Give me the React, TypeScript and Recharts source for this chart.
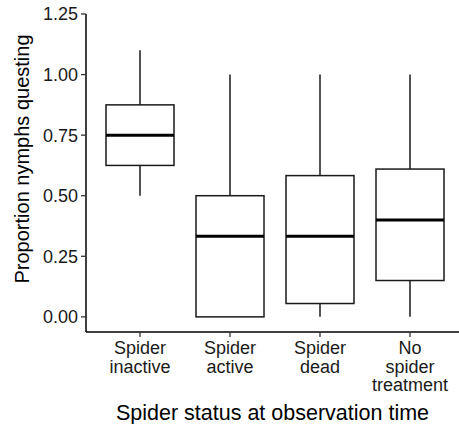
import React from "react";
import { ComposedChart, Bar, XAxis, YAxis, Label } from "recharts";

const categories = ["Spider\ninactive", "Spider\nactive", "Spider\ndead", "No\nspider\ntreatment"];
const whiskerLow = [0.5, 0, 0, 0];
const q1 = [0.625, 0, 0.055, 0.15];
const median = [0.75, 0.333, 0.333, 0.4];
const q3 = [0.875, 0.5, 0.583, 0.61];
const whiskerHigh = [1.1, 1.0, 1.0, 1.0];
const yTicks = [0, 0.25, 0.5, 0.75, 1.0, 1.25];

const data = categories.map((c, i) => ({
  name: c,
  low: whiskerLow[i],
  q1: q1[i],
  median: median[i],
  q3: q3[i],
  high: whiskerHigh[i],
}));

const FONT = "'Liberation Sans', Arial, Helvetica, sans-serif";

const BoxShape = (props: any) => {
  const { x, y, width, height, payload } = props;
  const top = Math.min(y, y + height);
  const bottom = Math.max(y, y + height);
  const hi = payload.high;
  const lo = payload.low;
  const px = (v: number) => (hi === lo ? top : top + ((bottom - top) * (hi - v)) / (hi - lo));
  const cx = x + width / 2;
  const yq1 = px(payload.q1);
  const yq3 = px(payload.q3);
  const ym = px(payload.median);
  return (
    <g>
      <line x1={cx} x2={cx} y1={top} y2={yq3} stroke="#1a1a1a" strokeWidth={1.5} />
      <line x1={cx} x2={cx} y1={yq1} y2={bottom} stroke="#1a1a1a" strokeWidth={1.5} />
      <rect x={x} y={yq3} width={width} height={yq1 - yq3} fill="#ffffff" stroke="#1a1a1a" strokeWidth={1.5} />
      <line x1={x} x2={x + width} y1={ym} y2={ym} stroke="#000000" strokeWidth={3} />
    </g>
  );
};

const XTick = (props: any) => {
  const { x, y, payload } = props;
  const lines = String(payload.value).split("\n");
  return (
    <text x={x} y={y} textAnchor="middle" fill="#1a1a1a" fontSize={18} fontFamily={FONT}>
      {lines.map((l, i) => (
        <tspan key={i} x={x} dy={i === 0 ? 15 : 18.5}>
          {l}
        </tspan>
      ))}
    </text>
  );
};

export default function App() {
  return (
    <div style={{ position: "absolute", left: 0, top: 0, width: 459, height: 424, background: "#fff" }}>
      <ComposedChart
        width={459}
        height={424}
        data={data}
        margin={{ top: 14, right: 0, left: 0, bottom: 0 }}
        style={{ fontFamily: FONT }}
      >
        <XAxis
          dataKey="name"
          type="category"
          height={92}
          padding={{ left: 9, right: 4 }}
          axisLine={{ stroke: "#000", strokeWidth: 1.5 }}
          tickLine={{ stroke: "#333", strokeWidth: 1.3 }}
          tickSize={5}
          tick={<XTick />}
          interval={0}
        >
          <Label
            content={() => (
              <text x={272.5} y={420} textAnchor="middle" fontSize={21.5} fontFamily={FONT} fill="#000">
                Spider status at observation time
              </text>
            )}
          />
        </XAxis>
        <YAxis
          type="number"
          width={86}
          domain={[-0.0625, 1.25]}
          ticks={yTicks}
          allowDataOverflow
          tickFormatter={(v: number) => v.toFixed(2)}
          axisLine={{ stroke: "#000", strokeWidth: 1.5 }}
          tickLine={{ stroke: "#333", strokeWidth: 1.3 }}
          tickSize={5}
          tickMargin={3}
          tick={{ fill: "#1a1a1a", fontSize: 18, fontFamily: FONT }}
        >
          <Label
            content={() => (
              <text
                x={29}
                y={159}
                transform="rotate(-90 29 159)"
                textAnchor="middle"
                fontSize={20}
                fontFamily={FONT}
                fill="#000"
              >
                Proportion nymphs questing
              </text>
            )}
          />
        </YAxis>
        <Bar
          dataKey={(d: any) => [d.low, d.high]}
          barSize={68}
          shape={<BoxShape />}
          isAnimationActive={false}
        />
      </ComposedChart>
    </div>
  );
}
